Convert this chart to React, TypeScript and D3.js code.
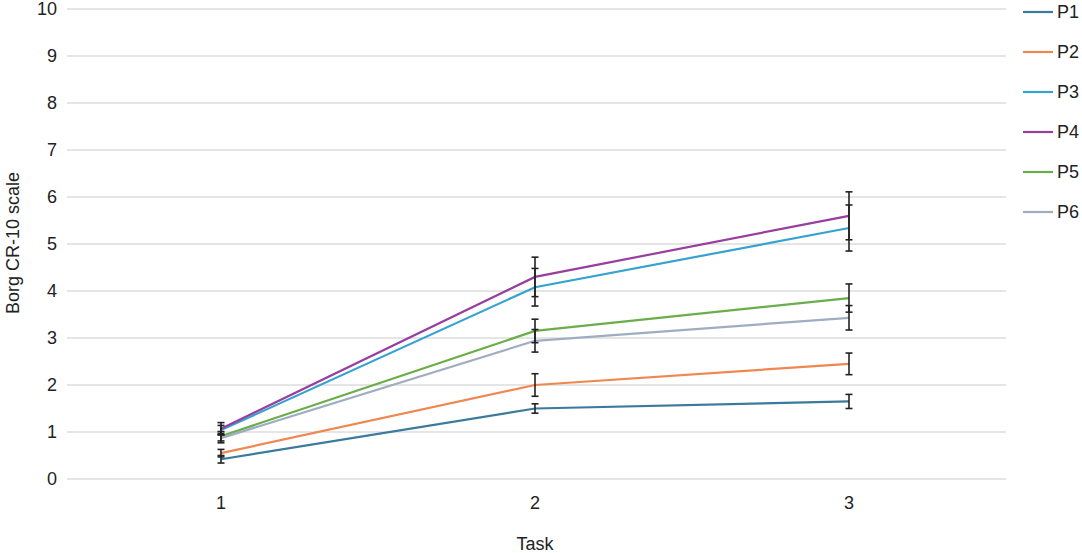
import React from "react";
import * as d3 from "d3";

const tasks = ["1", "2", "3"];
const series = ["P1", "P2", "P3", "P4", "P5", "P6"];
const colors = ["#3b7a9c", "#f0874f", "#35a2cf", "#973e9e", "#6aae4a", "#9fadc0"];
const p1 = [0.42, 1.5, 1.65];
const p2 = [0.55, 2.0, 2.45];
const p3 = [1.04, 4.08, 5.34];
const p4 = [1.07, 4.3, 5.6];
const p5 = [0.91, 3.15, 3.85];
const p6 = [0.87, 2.94, 3.43];
const e1 = [0.08, 0.1, 0.15];
const e2 = [0.08, 0.24, 0.23];
const e3 = [0.1, 0.4, 0.49];
const e4 = [0.13, 0.42, 0.51];
const e5 = [0.1, 0.25, 0.3];
const e6 = [0.1, 0.24, 0.26];
const yTicks = [0, 1, 2, 3, 4, 5, 6, 7, 8, 9, 10];

const values = [p1, p2, p3, p4, p5, p6];
const errors = [e1, e2, e3, e4, e5, e6];

export default function App() {
  const W = 1082, H = 553;
  const x = d3.scalePoint<string>().domain(tasks).range([64, 1006]).padding(0.5);
  const y = d3.scaleLinear().domain([0, 10]).range([479, 9]);
  const line = d3
    .line<number>()
    .x((_, i) => x(tasks[i]) as number)
    .y((d) => y(d));
  const font = "Liberation Sans, Arial, sans-serif";
  const fs = 18;
  return (
    <svg
      width={W}
      height={H}
      style={{ position: "absolute", left: 0, top: 0, background: "#fff" }}
      fontFamily={font}
    >
      {yTicks.map((t) => (
        <g key={t}>
          <line x1={67} x2={1006} y1={y(t)} y2={y(t)} stroke="#dcdcdc" strokeWidth={1.6} />
          <text x={57} y={y(t)} dy="0.35em" textAnchor="end" fontSize={fs} fill="#222">
            {t}
          </text>
        </g>
      ))}
      {tasks.map((t) => (
        <text key={t} x={x(t)} y={503} dy="0.35em" textAnchor="middle" fontSize={fs} fill="#222">
          {t}
        </text>
      ))}
      <text x={535} y={544} dy="0.35em" textAnchor="middle" fontSize={fs} fill="#222">
        Task
      </text>
      <text
        transform={`translate(13,${y(5) - 1}) rotate(-90)`}
        dy="0.35em"
        textAnchor="middle"
        fontSize={fs}
        fill="#222"
      >
        Borg CR-10 scale
      </text>
      {values.map((v, si) => (
        <path key={si} d={line(v) || ""} fill="none" stroke={colors[si]} strokeWidth={2.2} />
      ))}
      {values.map((v, si) =>
        v.map((val, i) => {
          const cx = x(tasks[i]) as number;
          const lo = y(val - errors[si][i]);
          const hi = y(val + errors[si][i]);
          return (
            <g key={`${si}-${i}`} stroke="#222" strokeWidth={1.6}>
              <line x1={cx} x2={cx} y1={lo} y2={hi} />
              <line x1={cx - 3.5} x2={cx + 3.5} y1={lo} y2={lo} />
              <line x1={cx - 3.5} x2={cx + 3.5} y1={hi} y2={hi} />
            </g>
          );
        })
      )}
      {series.map((s, i) => (
        <g key={s} transform={`translate(0,${12 + i * 40})`}>
          <line x1={1023} x2={1053} y1={0} y2={0} stroke={colors[i]} strokeWidth={2.2} />
          <text x={1057} y={0} dy="0.35em" fontSize={fs} fill="#222">
            {s}
          </text>
        </g>
      ))}
    </svg>
  );
}
